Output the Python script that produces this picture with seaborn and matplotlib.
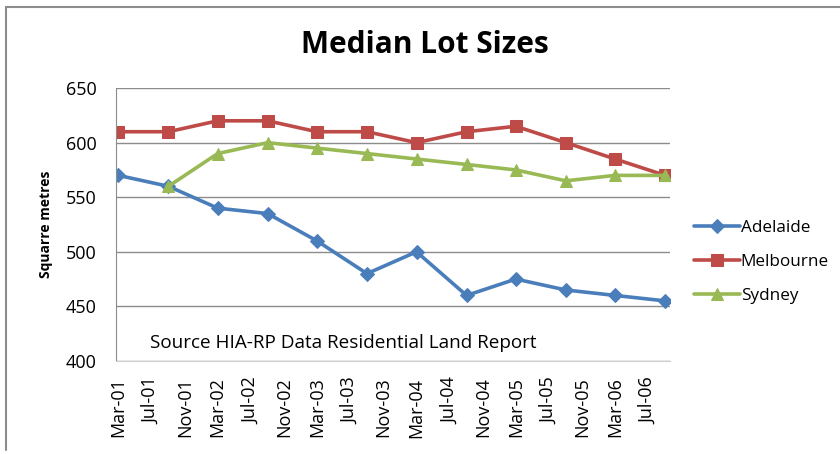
import pandas as pd
import numpy as np
import matplotlib.pyplot as plt
import matplotlib.dates as mdates
from matplotlib.lines import Line2D
import seaborn as sns

dates = pd.date_range("2001-03-01", "2006-09-01", freq="6MS")
adelaide = [570, 560, 540, 535, 510, 480, 500, 460, 475, 465, 460, 455]
melbourne = [610, 610, 620, 620, 610, 610, 600, 610, 615, 600, 585, 570]
sydney = [np.nan, 560, 590, 600, 595, 590, 585, 580, 575, 565, 570, 570]

cities = ["Adelaide", "Melbourne", "Sydney"]
colors = ["#4A7EBB", "#BE4B48", "#98B954"]
markers = ["D", "s", "^"]
msizes = [7, 9, 8.5]

df = pd.DataFrame({"date": dates, "Adelaide": adelaide,
                   "Melbourne": melbourne, "Sydney": sydney})
long_df = df.melt(id_vars="date", var_name="city", value_name="size").dropna()

sns.set_style("white")
plt.rcParams["font.family"] = ["Open Sans", "DejaVu Sans"]
plt.rcParams["text.color"] = "black"
plt.rcParams["xtick.color"] = "black"
plt.rcParams["ytick.color"] = "black"
plt.rcParams["axes.labelcolor"] = "black"

fig = plt.figure(figsize=(8.4, 4.54), dpi=100)
ax = fig.add_axes([0.138, 0.205, 0.66, 0.601])

for city, c, m, ms in zip(cities, colors, markers, msizes):
    sns.lineplot(data=long_df[long_df["city"] == city], x="date", y="size",
                 color=c, marker=m, markersize=ms, linewidth=2.6,
                 markeredgecolor=c, label=city, ax=ax)

ax.set_ylim(400, 650)
ax.set_yticks([400, 450, 500, 550, 600, 650])
ax.set_xlim(pd.Timestamp("2001-02-20"), pd.Timestamp("2006-09-20"))
ax.xaxis.set_major_locator(mdates.MonthLocator(bymonth=[3, 7, 11]))
ax.xaxis.set_major_formatter(mdates.DateFormatter("%b-%y"))
ax.yaxis.grid(True, color="#8c8c8c", linewidth=1)
ax.set_axisbelow(True)
for s in ["top", "right"]:
    ax.spines[s].set_visible(False)
ax.spines["left"].set_color("#8c8c8c")
ax.spines["bottom"].set_color("#d0d0d0")
ax.tick_params(axis="x", labelrotation=90, labelsize=13, length=0, pad=12)
ax.tick_params(axis="y", labelsize=13, length=0, pad=14)
ax.set_xlabel("")
ax.set_ylabel("Squarre metres", fontsize=10, fontweight="bold", labelpad=9)

ax.text(0.061, 0.066, "Source HIA-RP Data Residential Land Report",
        transform=ax.transAxes, fontsize=13.6, va="center", ha="left")

fig.text(0.506, 0.9, "Median Lot Sizes", fontsize=21.5, fontweight="bold",
         ha="center", va="center")

leg = ax.legend(loc="center left", bbox_to_anchor=(1.03, 0.363), frameon=False,
                fontsize=12.3, handlelength=2.7, handletextpad=0.05,
                labelspacing=1.05, borderaxespad=0)

fig.add_artist(Line2D([0.007, 0.007], [0.008, 0.985], color="#8c8c8c",
                      linewidth=1.5, transform=fig.transFigure))
fig.add_artist(Line2D([0.007, 1.0], [0.985, 0.985], color="#8c8c8c",
                      linewidth=1.5, transform=fig.transFigure))

fig.savefig("out.png", dpi=100)
